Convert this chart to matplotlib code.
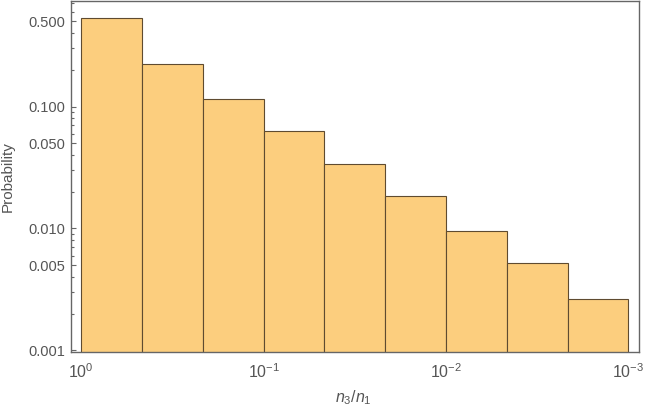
import numpy as np
import matplotlib
matplotlib.use("Agg")
import matplotlib.pyplot as plt
from matplotlib.ticker import FixedLocator, FixedFormatter, NullLocator

plt.rcParams['font.family'] = ['Liberation Sans', 'DejaVu Sans']
plt.rcParams['mathtext.fontset'] = 'custom'
plt.rcParams['mathtext.rm'] = 'Liberation Sans'
plt.rcParams['mathtext.it'] = 'Liberation Sans:italic'

# Data: bin edges in log10(n3/n1) (thirds of a decade) and probabilities
bin_edges_log10 = [0, -1/3, -2/3, -1, -4/3, -5/3, -2, -7/3, -8/3, -3]
probabilities = [0.527, 0.223, 0.116, 0.063, 0.0335, 0.0185, 0.0095, 0.0052, 0.00263]

y_major = [0.001, 0.005, 0.010, 0.050, 0.100, 0.500]
y_major_labels = ["0.001", "0.005", "0.010", "0.050", "0.100", "0.500"]
x_ticks = [1, 0.1, 0.01, 0.001]
x_tick_labels = [r"$10^{0}$", r"$10^{-1}$", r"$10^{-2}$", r"$10^{-3}$"]

W, H = 646, 409
fig = plt.figure(figsize=(W/100, H/100), dpi=100)
ax = fig.add_axes([71/W, (H-352.3)/H, (639-71)/W, (352.3-1)/H])

edges = 10.0 ** np.array(bin_edges_log10)
left = edges[1:]
width = edges[:-1] - edges[1:]
ax.bar(left, probabilities, width=width, align='edge', bottom=1e-5,
       color='#FCCE7E', edgecolor='#5f4b30', linewidth=0.8, zorder=2)

ax.set_xscale('log')
ax.set_yscale('log')
ax.set_xlim(10**0.0565, 10**-3.0587)
ax.set_ylim(10**-3.0148, 10**-0.1352)

frame_col = '#666666'
text_col = '#555555'
for s in ax.spines.values():
    s.set_color(frame_col)
    s.set_linewidth(1.0)

ax.xaxis.set_major_locator(FixedLocator(x_ticks))
ax.xaxis.set_major_formatter(FixedFormatter(x_tick_labels))
ax.xaxis.set_minor_locator(NullLocator())
ax.tick_params(axis='x', which='both', length=0, labelsize=11.5, labelcolor=text_col, pad=7)

minor = []
for k in range(-3, 0):
    for m in range(1, 10):
        v = m * 10.0**k
        if v < 0.75 and all(abs(v - t) > 1e-12 for t in y_major):
            minor.append(v)
ax.yaxis.set_major_locator(FixedLocator(y_major))
ax.yaxis.set_major_formatter(FixedFormatter(y_major_labels))
ax.yaxis.set_minor_locator(FixedLocator(minor))
ax.tick_params(axis='y', which='major', direction='in', length=3.8, width=0.8,
               color=frame_col, labelsize=10.5, labelcolor=text_col, pad=4)
ax.tick_params(axis='y', which='minor', direction='in', length=2.0, width=0.8,
               color=frame_col, labelleft=False)

fig.text(353/W, 1 - 398/H, r"$n_3/n_1$", fontsize=11.5, color=text_col,
         ha='center', va='center')
fig.text(8/W, 1 - 177/H, "Probability", fontsize=11, color=text_col,
         rotation=90, ha='center', va='center')

fig.savefig("out.png", dpi=100)
